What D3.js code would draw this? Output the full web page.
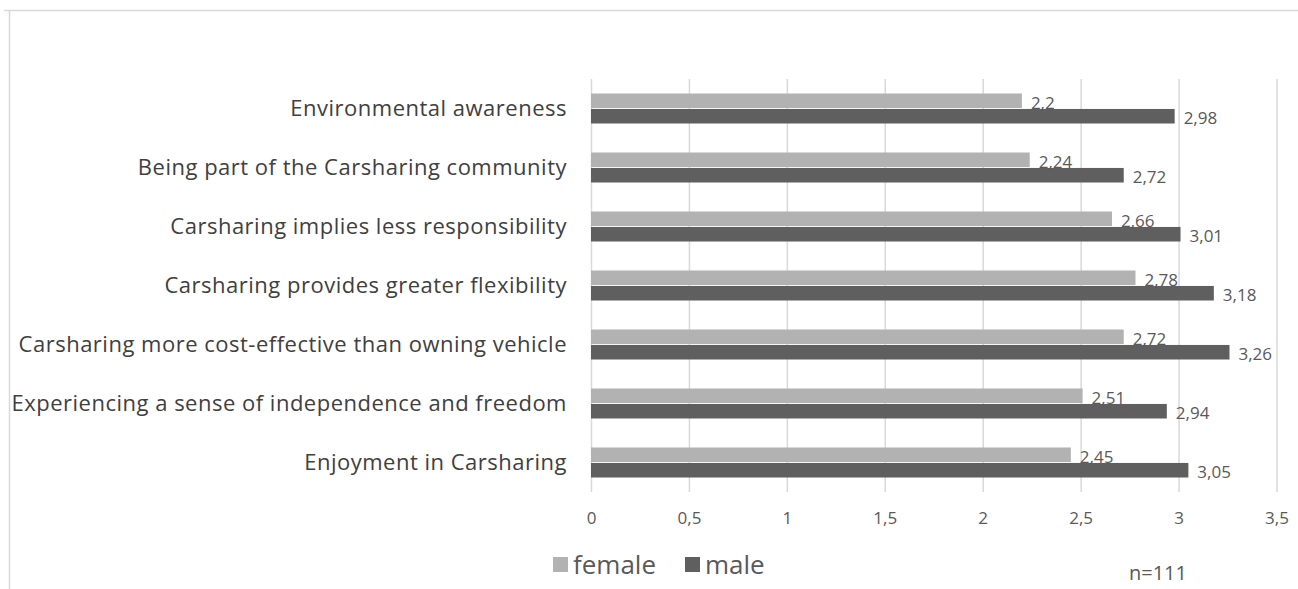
<!DOCTYPE html>
<html>
<head>
<meta charset="utf-8">
<script src="https://cdn.jsdelivr.net/npm/d3@7"></script>
<style>
  html, body { margin: 0; padding: 0; background: #fff; }
  svg { display: block; font-family: "Open Sans", sans-serif; }
</style>
</head>
<body>
<div id="vis"></div>
<script>
// categories top to bottom
const categories = [
  "Environmental awareness",
  "Being part of the Carsharing community",
  "Carsharing implies less responsibility",
  "Carsharing provides greater flexibility",
  "Carsharing more cost-effective than owning vehicle",
  "Experiencing a sense of independence and freedom",
  "Enjoyment in Carsharing",
];
const series = ["female", "male"];
const femaleValues = [2.2, 2.24, 2.66, 2.78, 2.72, 2.51, 2.45];
const maleValues = [2.98, 2.72, 3.01, 3.18, 3.26, 2.94, 3.05];
const xTicks = [0, 0.5, 1, 1.5, 2, 2.5, 3, 3.5];
const note = "n=111";

const options = {
  width: 1298,
  height: 589,
  plot: { left: 591, right: 1276.5, top: 79, bottom: 492 },
  colors: { female: "#b2b2b2", male: "#5f5f5f" },
  grid: "#d9d9d9",
  text: "#595959",
  labelText: "#404040",
};

const data = categories.map((c, i) => ({
  category: c,
  female: femaleValues[i],
  male: maleValues[i],
}));

////////////////////////////////////////
////////////// Scales //////////////////
////////////////////////////////////////

const xScale = d3.scaleLinear()
  .domain([0, 3.5])
  .range([options.plot.left, options.plot.right]);

const yScale = d3.scaleBand()
  .domain(categories)
  .range([options.plot.top, options.plot.bottom]);

const innerScale = d3.scaleBand()
  .domain(series)
  .range([14.5, yScale.bandwidth() - 14.5])
  .paddingInner(0.06);

////////////////////////////////////////
////////////// DOM Setup ///////////////
////////////////////////////////////////

const svg = d3.select("#vis").append("svg")
  .attr("width", options.width)
  .attr("height", options.height);

// chart frame
svg.append("path")
  .attr("d", `M4,10.5 H${options.width} M9.5,10.5 V${options.height}`)
  .attr("fill", "none")
  .attr("stroke", options.grid)
  .attr("stroke-width", 1.5);

// gridlines + tick labels
const xAxis = svg.append("g")
  .attr("transform", `translate(0,${options.plot.bottom})`)
  .call(d3.axisBottom(xScale)
    .tickValues(xTicks)
    .tickSize(-(options.plot.bottom - options.plot.top))
    .tickPadding(20)
    .tickFormat(d => String(d).replace(".", ",")));
xAxis.select(".domain").remove();
xAxis.selectAll("line").attr("stroke", options.grid).attr("stroke-width", 1.5);
xAxis.selectAll("text")
  .attr("fill", options.text)
  .attr("font-size", 17)
  .attr("font-family", "Open Sans");

// category labels
const yAxis = svg.append("g")
  .attr("transform", `translate(${options.plot.left},0)`)
  .call(d3.axisLeft(yScale).tickSize(0).tickPadding(24));
yAxis.select(".domain").remove();
yAxis.selectAll("text")
  .attr("fill", options.labelText)
  .attr("font-size", 22)
  .attr("letter-spacing", 0.5)
  .attr("font-family", "Open Sans");

// bars
const groups = svg.append("g")
  .selectAll("g")
  .data(data)
  .join("g")
  .attr("transform", d => `translate(0,${yScale(d.category)})`);

groups.selectAll("rect")
  .data(d => series.map(s => ({ key: s, value: d[s] })))
  .join("rect")
  .attr("x", xScale(0))
  .attr("y", d => innerScale(d.key))
  .attr("width", d => xScale(d.value) - xScale(0))
  .attr("height", innerScale.bandwidth())
  .attr("fill", d => options.colors[d.key]);

groups.selectAll("text")
  .data(d => series.map(s => ({ key: s, value: d[s] })))
  .join("text")
  .attr("x", d => xScale(d.value) + 9)
  .attr("y", d => innerScale(d.key) + innerScale.bandwidth() / 2 + 2)
  .attr("dy", "0.35em")
  .attr("fill", options.text)
  .attr("font-size", 17)
  .text(d => String(d.value).replace(".", ","));

// legend
const legend = svg.append("g").attr("transform", "translate(553,565)");
const legendItems = legend.selectAll("g")
  .data(series)
  .join("g")
  .attr("transform", (d, i) => `translate(${i * 132},0)`);
legendItems.append("rect")
  .attr("x", 0)
  .attr("y", -8)
  .attr("width", 15)
  .attr("height", 15)
  .attr("fill", d => options.colors[d]);
legendItems.append("text")
  .attr("x", 20)
  .attr("y", 0)
  .attr("dy", "0.35em")
  .attr("fill", options.text)
  .attr("font-size", 26)
  .text(d => d);

// sample size note
svg.append("text")
  .attr("x", 1158)
  .attr("y", 573)
  .attr("dy", "0.35em")
  .attr("text-anchor", "middle")
  .attr("fill", options.text)
  .attr("font-size", 20)
  .text(note);
</script>
</body>
</html>
